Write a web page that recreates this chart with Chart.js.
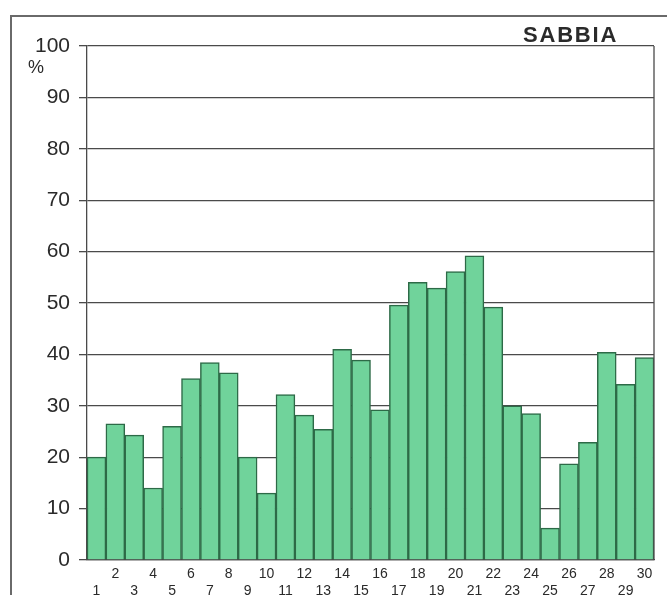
<!DOCTYPE html>
<html>
<head>
<meta charset="utf-8">
<style>
  html, body { margin: 0; padding: 0; background: #fff; }
  #wrap { position: relative; width: 667px; height: 595px; overflow: hidden; }
  #frame { position: absolute; left: 10px; top: 15px; width: 700px; height: 640px;
           border-left: 2px solid #6a6a6a; border-top: 2px solid #6a6a6a; }
  #chart { position: absolute; left: 0; top: 0; }
  .lab { position: absolute; font-family: "Liberation Sans", Arial, sans-serif; color: #2a2a2a; line-height: 1; }
  #title { left: 523px; top: 24px; font-size: 22px; font-weight: bold; letter-spacing: 1.8px; }
  #unit { left: 28px; top: 58px; font-size: 18px; }
</style>
</head>
<body>
<div id="wrap">
  <div id="frame"></div>
  <canvas id="chart" width="667" height="595"></canvas>
  <div class="lab" id="title">SABBIA</div>
  <div class="lab" id="unit">%</div>
</div>
<script src="https://cdn.jsdelivr.net/npm/chart.js@4.4.1/dist/chart.umd.min.js"></script>
<script>
// sand percentage per sample
var days = [1, 2, 3, 4, 5, 6, 7, 8, 9, 10, 11, 12, 13, 14, 15,
            16, 17, 18, 19, 20, 21, 22, 23, 24, 25, 26, 27, 28, 29, 30];
var sabbia = [20, 26.5, 24.3, 14, 26, 35.3, 38.4, 36.4, 20, 13,
              32.2, 28.2, 25.4, 41, 38.9, 29.2, 49.6, 54, 52.9, 56.1,
              59.2, 49.2, 30, 28.5, 6.2, 18.7, 22.9, 40.4, 34.2, 39.4];
var yTicks = [0, 10, 20, 30, 40, 50, 60, 70, 80, 90, 100];

var FILL = "#70d39b", EDGE = "#2d6a47", GRID = "#4a4a4a", INK = "#2a2a2a";

// odd numbers sit on the lower row, even on the upper row
var xLabels = days.map(function (d) { return d % 2 ? ["", String(d)] : [String(d)]; });

var rightEdge = {
  id: "rightEdge",
  afterDraw: function (c) {
    var a = c.chartArea, ctx = c.ctx;
    ctx.save();
    ctx.strokeStyle = GRID; ctx.lineWidth = 1.3;
    ctx.beginPath(); ctx.moveTo(a.right, a.top); ctx.lineTo(a.right, a.bottom); ctx.stroke();
    ctx.restore();
  }
};

new Chart(document.getElementById("chart"), {
  type: "bar",
  data: {
    labels: xLabels,
    datasets: [{
      data: sabbia, backgroundColor: FILL, borderColor: EDGE, borderWidth: 1.5,
      categoryPercentage: 1, barPercentage: 1
    }]
  },
  options: {
    responsive: false, animation: false,
    layout: { padding: { left: 0, top: 46, right: 13, bottom: 0 } },
    plugins: { legend: { display: false }, tooltip: { enabled: false } },
    scales: {
      x: {
        grid: { display: false },
        border: { display: true, color: GRID, width: 1.3 },
        ticks: { autoSkip: false, maxRotation: 0, minRotation: 0, padding: -2, color: INK,
                 font: { family: "Liberation Sans", size: 14, lineHeight: 1.2 } },
        afterFit: function (s) { s.height = 35; }
      },
      y: {
        min: 0, max: 100,
        afterBuildTicks: function (s) { s.ticks = yTicks.map(function (v) { return { value: v }; }); },
        grid: { color: GRID, lineWidth: 1.3, tickLength: 8 },
        border: { display: true, color: GRID, width: 1.3 },
        ticks: { padding: 9, color: INK, font: { family: "Liberation Sans", size: 21 } },
        afterFit: function (s) { s.width = 87; }
      }
    }
  },
  plugins: [rightEdge]
});
</script>
</body>
</html>
